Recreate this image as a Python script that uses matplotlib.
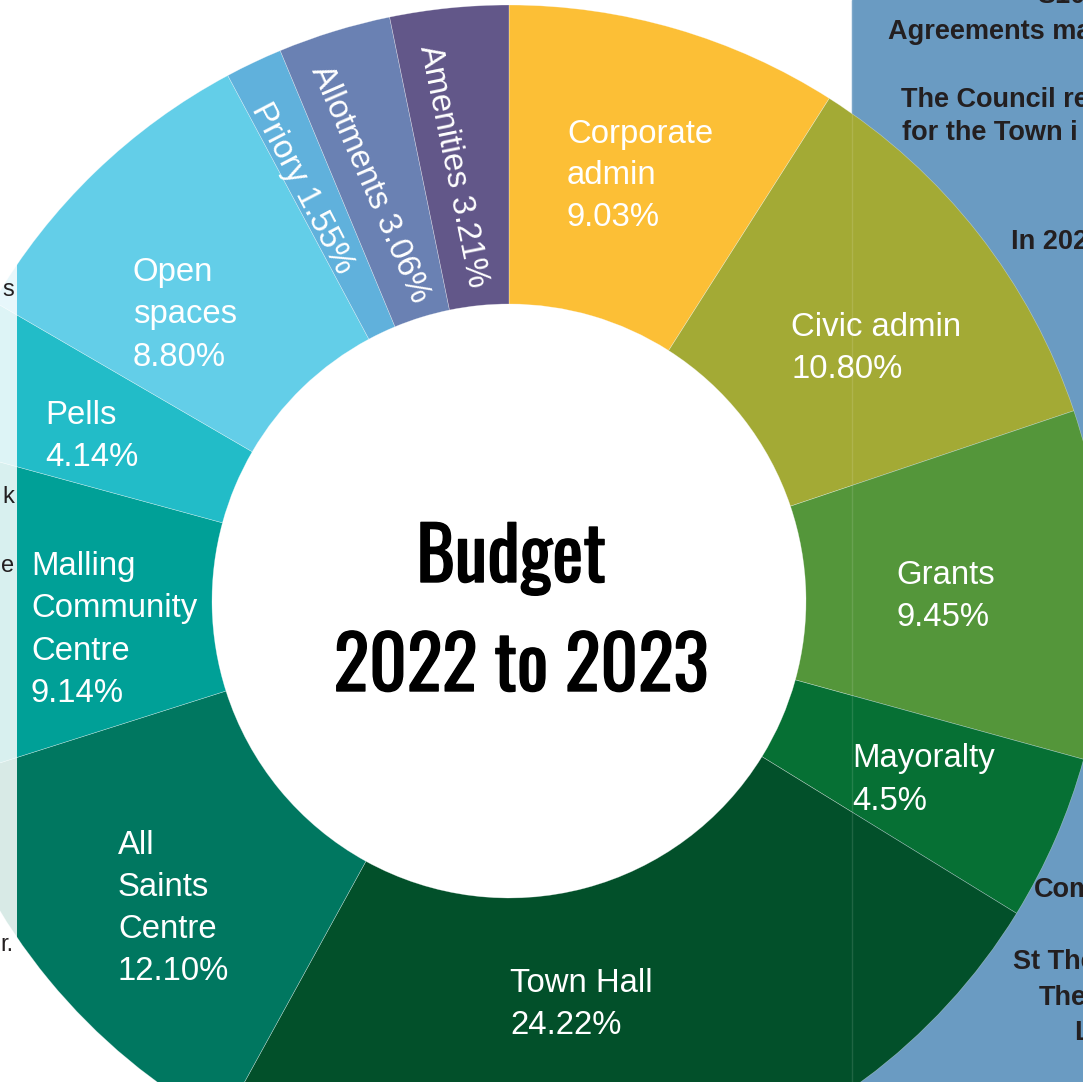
import matplotlib.pyplot as plt
import matplotlib.patheffects as pe
from matplotlib.patches import Rectangle
from matplotlib import font_manager

W, H = 1083, 1082

# budget shares, clockwise from 12 o'clock
categories = ["Corporate admin", "Civic admin", "Grants", "Mayoralty", "Town Hall",
              "All Saints Centre", "Malling Community Centre", "Pells", "Open spaces",
              "Priory", "Allotments", "Amenities"]
shares = [9.03, 10.80, 9.45, 4.5, 24.22, 12.10, 9.14, 4.14, 8.80, 1.55, 3.06, 3.21]
pct_labels = ["9.03%", "10.80%", "9.45%", "4.5%", "24.22%", "12.10%", "9.14%",
              "4.14%", "8.80%", "1.55%", "3.06%", "3.21%"]
colors = ["#FCBF36", "#A3AA35", "#54963A", "#067034", "#02502A", "#007760",
          "#00A097", "#22BCC8", "#63CEE8", "#60B1DC", "#6A81B3", "#625789"]

# how each label is broken into lines (horizontal ones)
label_lines = {
    "Corporate admin": ["Corporate", "admin"],
    "Civic admin": ["Civic admin"],
    "Grants": ["Grants"],
    "Mayoralty": ["Mayoralty"],
    "Town Hall": ["Town Hall"],
    "All Saints Centre": ["All", "Saints", "Centre"],
    "Malling Community Centre": ["Malling", "Community", "Centre"],
    "Pells": ["Pells"],
    "Open spaces": ["Open", "spaces"],
}
# first line position (pixels, from top-left)
label_pos = {
    "Corporate admin": (567, 131),
    "Civic admin": (791, 325),
    "Grants": (896, 573),
    "Mayoralty": (852, 756),
    "Town Hall": (510, 980),
    "All Saints Centre": (118, 842),
    "Malling Community Centre": (31, 564),
    "Pells": (45, 413),
    "Open spaces": (133, 270),
}
# small slices get radial text
radial = {
    "Priory": (302, 188, -62.5),
    "Allotments": (370, 184, -66.5),
    "Amenities": (453, 166, -78.5),
}

right_text = [("S106", 1037, -6), ("Agreements ma", 888, 30), ("The Council re", 901, 98),
              ("for the Town i", 902, 131), ("In 202", 1011, 240), ("Com", 1034, 888),
              ("St The", 1013, 960), ("The", 1039, 996), ("L", 1074, 1031)]
left_text = [("s", 290), ("k", 497), ("e", 566), ("r.", 945)]

plt.rcParams['font.family'] = ['Liberation Sans', 'DejaVu Sans']

# pick a narrow face for the title if one is there
names = {f.name for f in font_manager.fontManager.ttflist}
narrow = [n for n in ['Oswald', 'Roboto Condensed', 'Liberation Sans Narrow']
          if n in names]

fig = plt.figure(figsize=(W / 100, H / 100), dpi=100)
ax = fig.add_axes([0, 0, 1, 1])


def py(y):
    return H - y


# blue side panel behind the chart
ax.add_patch(Rectangle((852, 0), W - 852, H, color="#6A9BC2", zorder=0))
for txt, x, y in right_text:
    ax.text(x, py(y + 2), txt, fontsize=19.5, fontweight='bold', color="#231F20",
            ha='left', va='center', zorder=1)

cx, cy, R, r = 509, py(601), 596, 297
wedges, _ = ax.pie(shares, colors=colors, startangle=90, counterclock=False,
                   center=(cx, cy), radius=R, frame=True,
                   wedgeprops=dict(width=R - r, edgecolor=(1, 1, 1, 0.45), linewidth=0.4))
for w in wedges:
    w.set_zorder(2)

# faint edge of the side panel showing across the chart
ax.plot([852, 852], [0, H], color='white', alpha=0.12, lw=1, zorder=3)

fs = 23.7
for name, pct in zip(categories, pct_labels):
    if name in label_lines:
        x, y = label_pos[name]
        lines = label_lines[name] + [pct]
        for i, ln in enumerate(lines):
            ax.text(x, py(y + 3 + 42 * i), ln, fontsize=fs, color='white',
                    ha='left', va='center', zorder=4)
    else:
        x, y, rot = radial[name]
        ax.text(x, py(y), name + " " + pct, fontsize=fs, color='white', rotation=rot,
                rotation_mode='anchor', ha='center', va='center', zorder=4)

# title in the hole
if narrow:
    tfont = dict(family=[narrow[0], 'DejaVu Sans'], fontsize=53)
else:
    tfont = dict(family=['DejaVu Sans'], fontstretch='condensed', fontsize=38)
heavy = [pe.withStroke(linewidth=1.0, foreground='black')]
ax.text(511, py(582), "Budget", fontweight='bold', ha='center', va='baseline',
        color='black', zorder=4, path_effects=heavy, **tfont)
ax.text(521, py(691), "2022 to 2023", fontweight='bold', ha='center', va='baseline',
        color='black', zorder=4, path_effects=heavy, **tfont)

# washed-out panel on the left edge
ax.add_patch(Rectangle((0, 0), 17, H, color='white', alpha=0.85, lw=0, zorder=5))
for txt, y in left_text:
    ax.text(14, py(y), txt, fontsize=17, color="#231F20", ha='right', va='center', zorder=6)

ax.set_xlim(0, W)
ax.set_ylim(0, H)
ax.set_aspect('auto')
ax.axis('off')

fig.savefig("out.png", dpi=100)
